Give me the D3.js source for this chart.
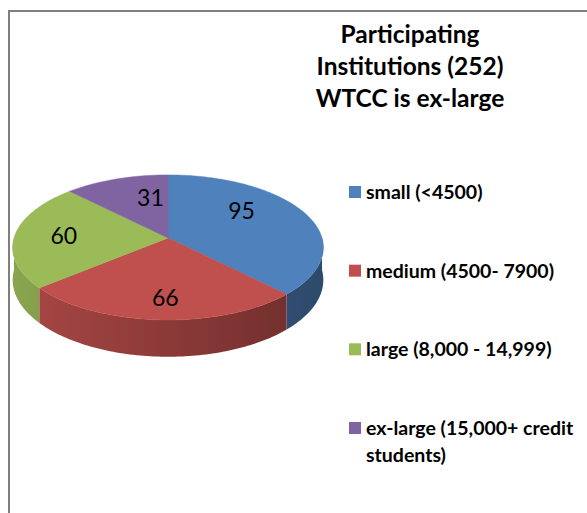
<!DOCTYPE html>
<html>
<head>
<meta charset="utf-8">
<script src="https://cdn.jsdelivr.net/npm/d3@7"></script>
<style>
  body { margin: 0; background: #fff; }
  svg { display: block; }
</style>
</head>
<body>
<script>
// data
var categories = ["small (<4500)", "medium (4500- 7900)", "large (8,000 - 14,999)", "ex-large (15,000+ credit students)"];
var values = [95, 66, 60, 31];
var colors = ["#4f81bd", "#c0504d", "#9bbb59", "#8064a2"];
var titleLines = ["Participating", "Institutions (252)", "WTCC is ex-large"];

var W = 587, H = 513;
var svg = d3.select("body").append("svg").attr("width", W).attr("height", H);

// frame of the chart area
svg.append("path")
  .attr("d", "M9," + (H + 5) + "V11H" + (W + 5))
  .attr("fill", "none")
  .attr("stroke", "#7f7f7f")
  .attr("stroke-width", 2);

// 3d pie, tilted disk with a bit of perspective
var cx = 168, cy = 238, rx = 154, ry = 71.3, persp = 0.13, depth = 32;
function proj(a, r, dz) {
  var X = Math.sin(a) * r, Z = -Math.cos(a) * r;
  var f = 1 / (1 - persp * Z);
  return [cx + rx * X * f, cy + (ry * Z + (dz || 0)) * f];
}
function arcPts(a0, a1, dz) {
  var n = Math.max(2, Math.ceil((a1 - a0) / 0.02));
  return d3.range(n + 1).map(function(i) { return proj(a0 + (a1 - a0) * i / n, 1, dz); });
}
// rim point seen from the centre in screen direction of angle m
var rim = d3.range(0, 2 * Math.PI, 0.002).map(function(a) {
  var p = proj(a, 1);
  var s = Math.atan2(p[0] - cx, cy - p[1]);
  return {s: s < 0 ? s + 2 * Math.PI : s, p: p};
});
function labelPos(m) {
  var best = d3.least(rim, function(q) {
    var d = Math.abs(q.s - m);
    return Math.min(d, 2 * Math.PI - d);
  });
  var k = 0.69;
  return [cx + (best.p[0] - cx) * k, cy + (best.p[1] - cy) * k];
}

var pie = d3.pie().sort(null).value(function(d) { return d; });
var arcs = pie(values);
var line = d3.line();

var defs = svg.append("defs");
arcs.forEach(function(d, i) {
  var g = defs.append("linearGradient")
    .attr("id", "side" + i)
    .attr("gradientUnits", "userSpaceOnUse")
    .attr("x1", cx - rx).attr("x2", cx + rx).attr("y1", 0).attr("y2", 0);
  g.append("stop").attr("offset", 0).attr("stop-color", d3.color(colors[i]).darker(0.35));
  g.append("stop").attr("offset", 1).attr("stop-color", d3.color(colors[i]).darker(1.6));
});

// sides (front half only)
var sides = svg.append("g");
arcs.forEach(function(d, i) {
  var a0 = Math.max(d.startAngle, Math.PI / 2), a1 = Math.min(d.endAngle, Math.PI * 1.5);
  if (a1 <= a0) return;
  var pts = arcPts(a0, a1, 0).concat(arcPts(a0, a1, depth).reverse());
  sides.append("path")
    .attr("d", line(pts) + "Z")
    .attr("fill", "url(#side" + i + ")");
});

// tops
var tops = svg.append("g");
arcs.forEach(function(d, i) {
  var pts = [proj(0, 0)].concat(arcPts(d.startAngle, d.endAngle, 0));
  tops.append("path")
    .attr("d", line(pts) + "Z")
    .attr("fill", colors[i])
    .attr("stroke", colors[i])
    .attr("stroke-width", 0.5);
});

// data labels
svg.append("g").selectAll("text")
  .data(arcs)
  .join("text")
  .attr("x", function(d) { return labelPos((d.startAngle + d.endAngle) / 2)[0]; })
  .attr("y", function(d) { return labelPos((d.startAngle + d.endAngle) / 2)[1] + 11; })
  .attr("text-anchor", "middle")
  .attr("font-family", "Lato, sans-serif")
  .attr("font-size", 23)
  .attr("fill", "#000")
  .text(function(d) { return d.data; });

// title
svg.append("g").selectAll("text")
  .data(titleLines)
  .join("text")
  .attr("x", 410)
  .attr("y", function(d, i) { return 43 + i * 32; })
  .attr("text-anchor", "middle")
  .attr("font-family", "Lato, sans-serif")
  .attr("font-weight", "bold")
  .attr("font-size", 24.5)
  .attr("fill", "#000")
  .text(function(d) { return d; });

// legend
var legY = d3.scalePoint().domain(d3.range(categories.length)).range([192, 428]);
var leg = svg.append("g").selectAll("g")
  .data(categories)
  .join("g")
  .attr("transform", function(d, i) { return "translate(349," + legY(i) + ")"; });
leg.append("rect")
  .attr("x", 0).attr("y", -6).attr("width", 12).attr("height", 12)
  .attr("fill", function(d, i) { return colors[i]; });
leg.append("text")
  .attr("x", 17)
  .attr("y", 7)
  .attr("font-family", "Lato, sans-serif")
  .attr("font-weight", "bold")
  .attr("font-size", 19.5)
  .attr("fill", "#000")
  .each(function(d) {
    var t = d3.select(this);
    var parts = d.length > 26 ? [d.slice(0, d.lastIndexOf(" ")), d.slice(d.lastIndexOf(" ") + 1)] : [d];
    parts.forEach(function(p, j) {
      t.append("tspan").attr("x", 17).attr("dy", j ? 27 : 0).text(p);
    });
  });
</script>
</body>
</html>
